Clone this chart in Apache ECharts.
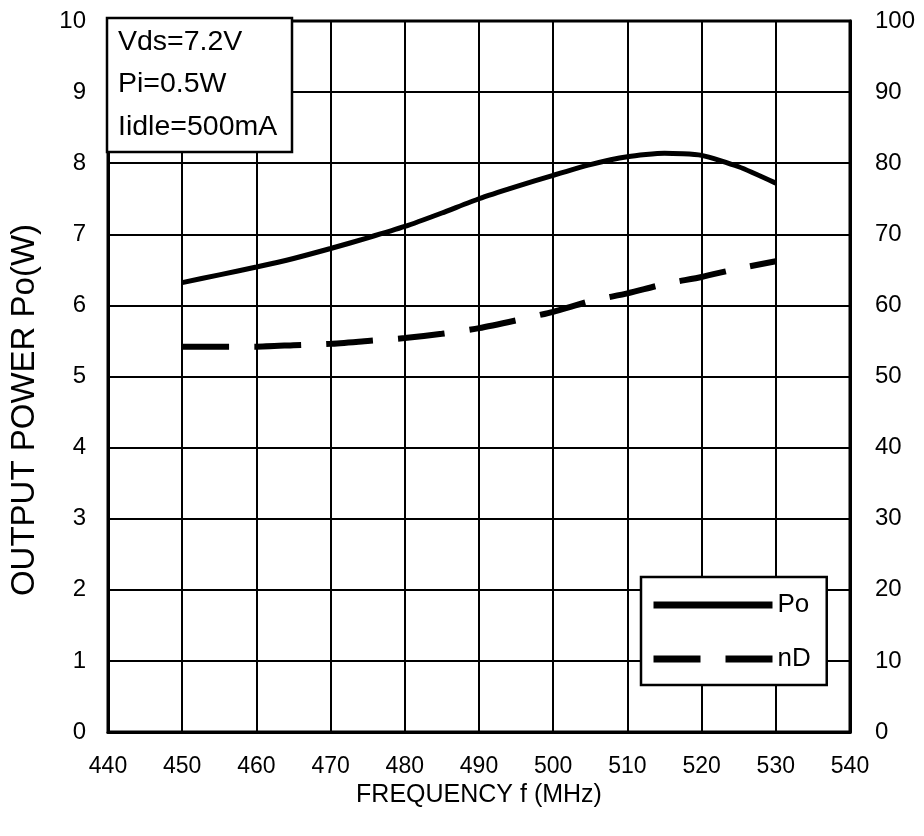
<!DOCTYPE html>
<html>
<head>
<meta charset="utf-8">
<script src="https://cdn.jsdelivr.net/npm/echarts@6/dist/echarts.min.js"></script>
<style>html,body{margin:0;padding:0;background:#fff;}#c{width:924px;height:836px;}</style>
</head>
<body>
<div id="c"></div>
<script>
// ---- data ----
const freqMHz = [450, 455, 460, 465, 470, 475, 480, 485, 490, 495, 500, 505, 510, 515, 520, 525, 530];
const poW     = [6.32, 6.43, 6.54, 6.66, 6.80, 6.95, 7.11, 7.30, 7.50, 7.67, 7.83, 7.98, 8.09, 8.14, 8.11, 7.95, 7.72];
const ndPct   = [54.2, 54.2, 54.2, 54.4, 54.6, 55.0, 55.4, 56.0, 56.8, 57.9, 59.1, 60.6, 61.7, 63.0, 64.0, 65.2, 66.2];
const xTicks = [440, 540, 10];   // min, max, interval
const yLeftTicks = [0, 10, 1];
const yRightTicks = [0, 100, 10];
const conditions = ['Vds=7.2V', 'Pi=0.5W', 'Iidle=500mA'];
const seriesNames = ['Po', 'nD'];
const xTitle = 'FREQUENCY f (MHz)';
const yTitle = 'OUTPUT POWER Po(W)';

const FONT = 'Liberation Sans, Arial, sans-serif';
const chart = echarts.init(document.getElementById('c'), null, {renderer: 'canvas'});

const pair = (xs, ys) => xs.map((x, i) => [x, ys[i]]);
const hiddenSymbol = {color: 'rgba(0,0,0,0)', borderWidth: 0, opacity: 0};

chart.setOption({
  backgroundColor: '#fff',
  animation: false,
  grid: {left: 108, right: 74, top: 21, bottom: 104, show: true, borderColor: '#000', borderWidth: 3, backgroundColor: 'transparent'},
  xAxis: {
    type: 'value', min: xTicks[0], max: xTicks[1], interval: xTicks[2],
    name: xTitle, nameLocation: 'middle', nameGap: 50,
    nameTextStyle: {fontFamily: FONT, fontSize: 25, color: '#000'},
    axisLine: {show: true, lineStyle: {color: '#000', width: 3}},
    axisTick: {show: false},
    axisLabel: {fontFamily: FONT, fontSize: 23, color: '#000', margin: 23},
    splitLine: {show: true, lineStyle: {color: '#000', width: 2}}
  },
  yAxis: [{
    type: 'value', min: yLeftTicks[0], max: yLeftTicks[1], interval: yLeftTicks[2], position: 'left',
    axisLine: {show: true, lineStyle: {color: '#000', width: 3}},
    axisTick: {show: false},
    axisLabel: {fontFamily: FONT, fontSize: 24, color: '#000', margin: 22},
    splitLine: {show: true, lineStyle: {color: '#000', width: 2}}
  }, {
    type: 'value', min: yRightTicks[0], max: yRightTicks[1], interval: yRightTicks[2], position: 'right',
    axisLine: {show: true, lineStyle: {color: '#000', width: 3}},
    axisTick: {show: false},
    axisLabel: {fontFamily: FONT, fontSize: 24, color: '#000', margin: 25},
    splitLine: {show: false}
  }],
  legend: {
    orient: 'vertical', left: 641, top: 577,
    padding: [15, 16, 13, 9], itemGap: 28,
    itemWidth: 119, itemHeight: 14,
    backgroundColor: '#fff', borderColor: '#000', borderWidth: 2.5, borderRadius: 0,
    textStyle: {fontFamily: FONT, fontSize: 26, color: '#000'},
    itemStyle: hiddenSymbol,
    data: [
      {name: seriesNames[0], lineStyle: {width: 7}, itemStyle: hiddenSymbol},
      {name: seriesNames[1], lineStyle: {width: 7}, itemStyle: hiddenSymbol}
    ],
    z: 10
  },
  graphic: [
    {type: 'rect', z: 100, shape: {x: 107, y: 18, width: 185, height: 134}, style: {fill: '#fff', stroke: '#000', lineWidth: 2.5}},
    {type: 'text', z: 101, x: 118, y: 42, style: {text: conditions[0], fontFamily: FONT, fontSize: 28.5, fill: '#000', verticalAlign: 'middle'}},
    {type: 'text', z: 101, x: 118, y: 84, style: {text: conditions[1], fontFamily: FONT, fontSize: 28.5, fill: '#000', verticalAlign: 'middle'}},
    {type: 'text', z: 101, x: 118, y: 127, style: {text: conditions[2], fontFamily: FONT, fontSize: 28.5, fill: '#000', verticalAlign: 'middle'}},
    {type: 'text', z: 101, x: 25, y: 410, rotation: Math.PI / 2, style: {text: yTitle, fontFamily: FONT, fontSize: 33, fill: '#000', align: 'center', verticalAlign: 'middle'}}
  ],
  series: [{
    name: seriesNames[0], type: 'line', yAxisIndex: 0, data: pair(freqMHz, poW),
    showSymbol: false, symbol: 'none', smooth: 0.2,
    lineStyle: {color: '#000', width: 5, type: 'solid'},
    itemStyle: {color: '#000'}
  }, {
    name: seriesNames[1], type: 'line', yAxisIndex: 1, data: pair(freqMHz, ndPct),
    showSymbol: false, symbol: 'none', smooth: 0.2,
    lineStyle: {color: '#000', width: 6, type: [47, 25]},
    itemStyle: {color: '#000'}
  }]
});
</script>
</body>
</html>
